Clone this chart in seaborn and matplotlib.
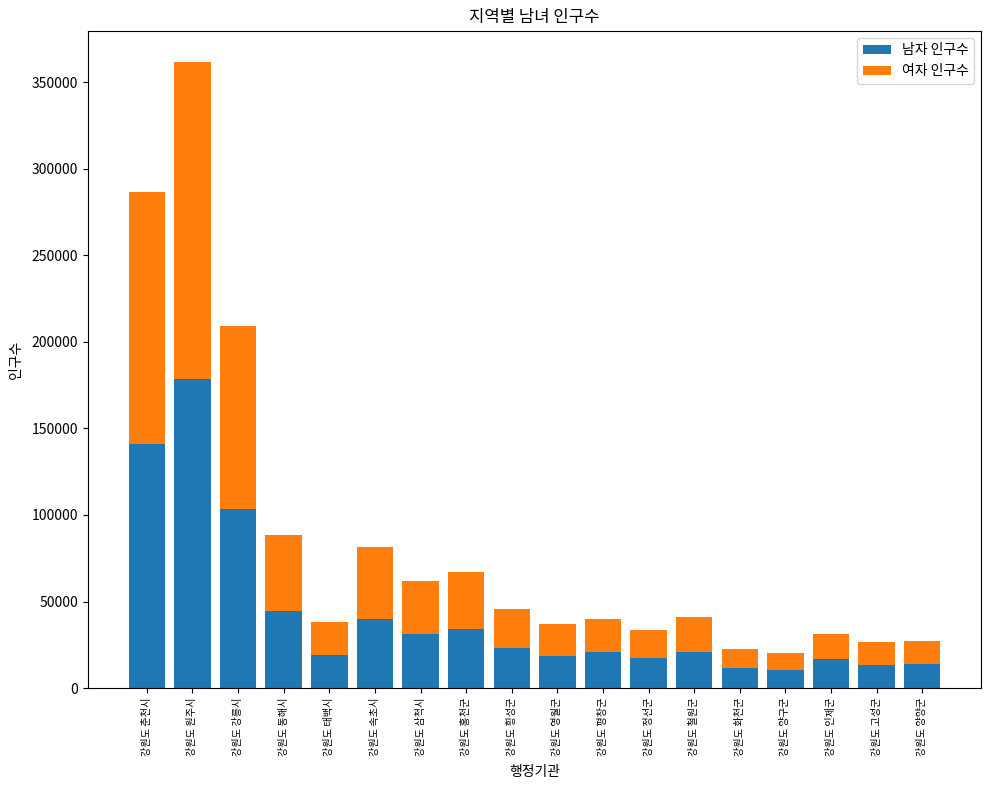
import matplotlib
matplotlib.use("Agg")
import matplotlib.pyplot as plt
import seaborn as sns
import numpy as np

plt.rcParams['font.family'] = ['Noto Sans CJK KR', 'DejaVu Sans']
plt.rcParams['axes.unicode_minus'] = False

regions = ['강원도 춘천시', '강원도 원주시', '강원도 강릉시', '강원도 동해시', '강원도 태백시',
           '강원도 속초시', '강원도 삼척시', '강원도 홍천군', '강원도 횡성군', '강원도 영월군',
           '강원도 평창군', '강원도 정선군', '강원도 철원군', '강원도 화천군', '강원도 양구군',
           '강원도 인제군', '강원도 고성군', '강원도 양양군']
male = [141200, 178800, 103600, 44500, 19100, 39900, 31300, 34200, 23100, 18500,
        20800, 17400, 20800, 11600, 10400, 16800, 13300, 13900]
female = [145200, 182800, 105300, 44000, 19100, 41700, 30600, 32900, 22600, 18500,
          19100, 16200, 20300, 11000, 9800, 14400, 13300, 13300]

fig, ax = plt.subplots(figsize=(9.89, 7.9), dpi=100)
sns.barplot(x=regions, y=male, color='#1f77b4', saturation=1, width=0.8,
            label='남자 인구수', ax=ax)
sns.barplot(x=regions, y=female, bottom=np.array(male), color='#ff7f0e', saturation=1,
            width=0.8, label='여자 인구수', ax=ax)

n = len(regions)
span = (n - 1) + 0.8
ax.set_xlim(-0.4 - 0.05 * span, n - 1 + 0.4 + 0.05 * span)
tot = np.array(male) + np.array(female)
ax.set_ylim(0, tot.max() * 1.05)
ax.ticklabel_format(axis='y', style='plain')
ax.tick_params(axis='x', labelrotation=90, labelsize=7.3)
ax.set_title('지역별 남녀 인구수')
ax.set_xlabel('행정기관', labelpad=6)
ax.set_ylabel('인구수', labelpad=6)
ax.legend(loc='upper right')
fig.subplots_adjust(left=0.089, right=0.992, top=0.961, bottom=0.129)
fig.savefig('out.png', dpi=100)
